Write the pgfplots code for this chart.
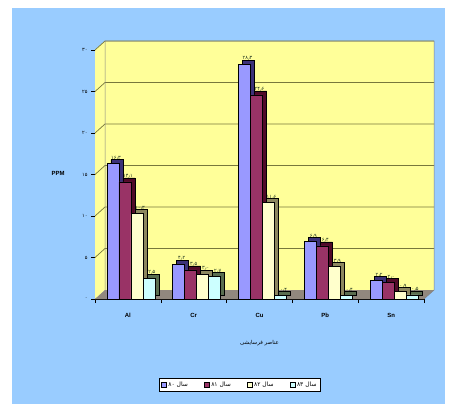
\documentclass[border=0pt]{standalone}
\usepackage{pgfplots}
\pgfplotsset{compat=1.18}
\usepackage{pgfplotstable}
\usepackage{fontspec}
\setmainfont{Liberation Sans}
\newfontfamily\arabicfont[Script=Arabic]{DejaVu Sans}
\TeXXeTstate=1

\definecolor{pagebg}{RGB}{153,204,255}
\definecolor{wall}{RGB}{255,255,153}
\definecolor{floorc}{RGB}{145,136,126}
\definecolor{gridc}{RGB}{120,120,60}
\definecolor{cA}{RGB}{153,153,255}
\definecolor{cB}{RGB}{153,51,102}
\definecolor{cC}{RGB}{255,255,204}
\definecolor{cD}{RGB}{204,255,255}
\definecolor{sA}{RGB}{60,50,120}
\definecolor{sB}{RGB}{80,10,40}
\definecolor{sC}{RGB}{140,135,95}
\definecolor{sD}{RGB}{90,110,80}
\definecolor{labc}{RGB}{30,50,30}

% Persian digits for a plain decimal string such as 16.3
\def\fadigit#1{\ifx#1.٫\else\ifcase#1 ۰\or ۱\or ۲\or ۳\or ۴\or ۵\or ۶\or ۷\or ۸\or ۹\fi\fi}
\def\fadigitsloop#1{\ifx#1\relax\else\fadigit{#1}\expandafter\fadigitsloop\fi}
\def\fadigits#1{\fadigitsloop#1\relax}

% x: element index (Al, Cr, Cu, Pb, Sn), y: PPM
\pgfplotstableread{
x y
0 16.3
1 4.2
2 28.3
3 6.9
4 2.2
}\yearA
\pgfplotstableread{
x y
0 14.1
1 3.5
2 24.6
3 6.4
4 2.0
}\yearB
\pgfplotstableread{
x y
0 10.3
1 3.0
2 11.6
3 3.9
4 0.9
}\yearC
\pgfplotstableread{
x y
0 2.5
1 2.7
2 0.4
3 0.4
4 0.5
}\yearD

\begin{document}
\begin{tikzpicture}[x=1bp,y=1bp]
\fill[white] (0,0) rectangle (449,404);
\fill[pagebg] (12,0) rectangle (445,396);
\begin{axis}[
  at={(95bp,105bp)}, anchor=south west,
  scale only axis, width=329bp, height=249bp,
  xmin=-0.5, xmax=4.5, ymin=0, ymax=30,
  clip=false,
  axis x line*=bottom, axis y line*=left,
  axis line style={black, line width=0.8bp, -},
  xtick={0,...,4}, xticklabels={Al,Cr,Cu,Pb,Sn},
  minor xtick={-0.5,0.5,1.5,2.5,3.5,4.5},
  every major x tick/.append style={draw=none},
  every minor x tick/.append style={black, line width=0.6bp},
  minor tick length=4bp,
  ytick={0,5,...,30},
  yticklabels={۰,۵,۱۰,۱۵,۲۰,۲۵,۳۰},
  every major y tick/.append style={black, line width=0.6bp},
  major tick length=4bp,
  tick align=outside,
  xticklabel style={font=\bfseries\fontsize{6}{7}\selectfont, yshift=-7bp},
  yticklabel style={font=\arabicfont\fontsize{5}{6}\selectfont},
  ylabel={PPM},
  ylabel style={rotate=-90, at={(axis description cs:-0.112,0.506)}, anchor=center, font=\bfseries\fontsize{6}{7}\selectfont},
  xlabel={\arabicfont\beginR عناصر فرسایشی\endR},
  xlabel style={at={(axis description cs:0.5,-0.177)}, anchor=center, font=\fontsize{5.5}{6}\selectfont},
  legend columns=4,
  legend style={at={(0.44,-0.345)}, anchor=center, draw=black, fill=white,
    font=\arabicfont\fontsize{6}{7}\selectfont, inner sep=1.5bp,
    /tikz/every even column/.append style={column sep=14bp}},
  legend image code/.code={\draw[#1, draw=black, line width=0.4bp] (0bp,-2.5bp) rectangle (5bp,2.5bp);},
  bar width=12bp,
  point meta=explicit symbolic,
  nodes near coords={\edef\fatmp{\pgfplotspointmeta}\expandafter\fadigits\expandafter{\fatmp}},
  nodes near coords style={font=\arabicfont\fontsize{5}{5.5}\selectfont, text=labc, anchor=south, yshift=3bp, xshift=3bp, inner sep=0.5bp},
]
% back wall, side wall and floor of the 3-D frame
\fill[wall] ([xshift=10bp,yshift=9bp]axis cs:-0.5,0) rectangle ([xshift=10bp,yshift=9bp]axis cs:4.5,30);
\fill[wall] (axis cs:-0.5,0) -- ([xshift=10bp,yshift=9bp]axis cs:-0.5,0) -- ([xshift=10bp,yshift=9bp]axis cs:-0.5,30) -- (axis cs:-0.5,30) -- cycle;
\fill[floorc] (axis cs:-0.5,0) -- (axis cs:4.5,0) -- ([xshift=10bp,yshift=9bp]axis cs:4.5,0) -- ([xshift=10bp,yshift=9bp]axis cs:-0.5,0) -- cycle;
\pgfplotsinvokeforeach{5,10,15,20,25,30}{
  \draw[gridc, line width=0.7bp] (axis cs:-0.5,#1) -- ([xshift=10bp,yshift=9bp]axis cs:-0.5,#1) -- ([xshift=10bp,yshift=9bp]axis cs:4.5,#1);
}
\draw[gray, line width=0.5bp] ([xshift=10bp,yshift=9bp]axis cs:-0.5,0) -- ([xshift=10bp,yshift=9bp]axis cs:-0.5,30)
  -- ([xshift=10bp,yshift=9bp]axis cs:4.5,30) -- ([xshift=10bp,yshift=9bp]axis cs:4.5,0) -- (axis cs:4.5,0);

% side faces of the columns
\addplot[ybar, bar shift=-15bp, fill=sA, draw=black, line width=0.5bp, xshift=4bp, yshift=4bp, forget plot, nodes near coords={}] table[x=x,y=y,meta=y] {\yearA};
\addplot[ybar, bar shift=-3bp, fill=sB, draw=black, line width=0.5bp, xshift=4bp, yshift=4bp, forget plot, nodes near coords={}] table[x=x,y=y,meta=y] {\yearB};
\addplot[ybar, bar shift=9bp, fill=sC, draw=black, line width=0.5bp, xshift=4bp, yshift=4bp, forget plot, nodes near coords={}] table[x=x,y=y,meta=y] {\yearC};
\addplot[ybar, bar shift=21bp, fill=sD, draw=black, line width=0.5bp, xshift=4bp, yshift=4bp, forget plot, nodes near coords={}] table[x=x,y=y,meta=y] {\yearD};

% front faces, each labelled with its value
\addplot[ybar, bar shift=-15bp, fill=cA, draw=black, line width=0.5bp, nodes near coords style={xshift=-15bp}] table[x=x,y=y,meta=y] {\yearA};
\addlegendentry{\beginR سال \beginL۸۰\endL\endR}
\addplot[ybar, bar shift=-3bp, fill=cB, draw=black, line width=0.5bp, nodes near coords style={xshift=-3bp}] table[x=x,y=y,meta=y] {\yearB};
\addlegendentry{\beginR سال \beginL۸۱\endL\endR}
\addplot[ybar, bar shift=9bp, fill=cC, draw=black, line width=0.5bp, nodes near coords style={xshift=9bp}] table[x=x,y=y,meta=y] {\yearC};
\addlegendentry{\beginR سال \beginL۸۲\endL\endR}
\addplot[ybar, bar shift=21bp, fill=cD, draw=black, line width=0.5bp, nodes near coords style={xshift=21bp}] table[x=x,y=y,meta=y] {\yearD};
\addlegendentry{\beginR سال \beginL۸۳\endL\endR}
\end{axis}
\end{tikzpicture}
\end{document}
